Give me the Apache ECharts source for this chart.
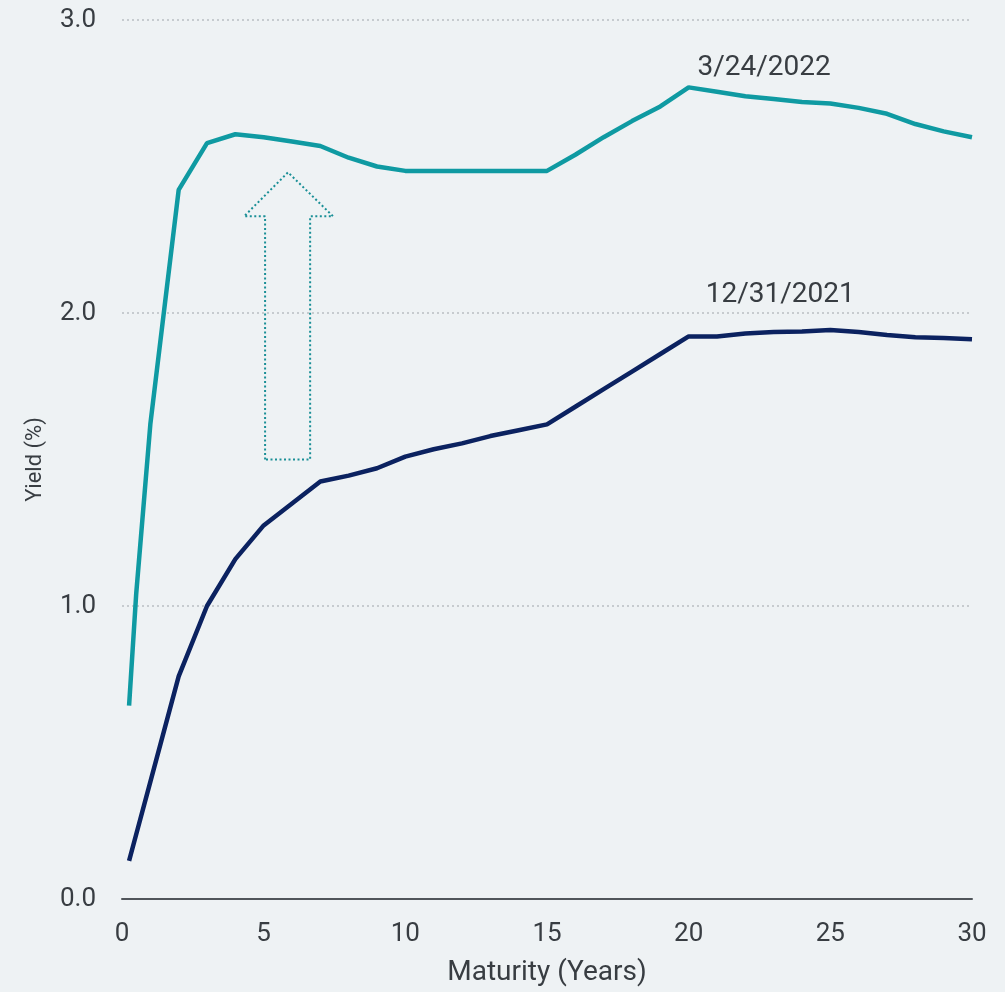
<!DOCTYPE html>
<html>
<head>
<meta charset="utf-8">
<script src="https://cdn.jsdelivr.net/npm/echarts@6/dist/echarts.min.js"></script>
<style>
html,body{margin:0;padding:0;background:#eef2f4;}
#chart{width:1005px;height:992px;}
</style>
</head>
<body>
<div id="chart"></div>
<script>
var maturities = [0.25,0.5,1,2,3,4,5,6,7,8,9,10,11,12,13,14,15,16,17,18,19,20,21,22,23,24,25,26,27,28,29,30];
var yields20220324 = [0.66,1.04,1.62,2.42,2.58,2.61,2.60,2.585,2.57,2.53,2.50,2.485,2.485,2.485,2.485,2.485,2.485,2.54,2.60,2.655,2.705,2.77,2.755,2.74,2.73,2.72,2.715,2.70,2.68,2.645,2.62,2.60];
var yields20211231 = [0.13,0.22,0.40,0.76,1.00,1.16,1.275,1.35,1.425,1.445,1.47,1.51,1.535,1.555,1.58,1.60,1.62,1.68,1.74,1.80,1.86,1.92,1.92,1.93,1.935,1.937,1.942,1.935,1.925,1.917,1.915,1.91];
var yTicks = [0,1,2,3];
var seriesNames = ['3/24/2022','12/31/2021'];
var labelCoords = [[22.66,2.835],[23.23,2.063]];
var arrowOutline = [[5.05,1.50],[5.05,2.33],[4.31,2.33],[5.86,2.48],[7.45,2.33],[6.64,2.33],[6.64,1.50],[5.05,1.50]];

var TEAL = '#0f9aa2';
var NAVY = '#0b2260';
var TEXT = '#383d42';
var FONT = 'Roboto';

function pairs(xs, ys){ return xs.map(function(x,i){ return [x, ys[i]]; }); }

var chart = echarts.init(document.getElementById('chart'));
chart.setOption({
  backgroundColor: '#eef2f4',
  animation: false,
  textStyle: {fontFamily: FONT},
  grid: {left: 122, right: 33, top: 20, bottom: 93},
  xAxis: {
    type: 'value', min: 0, max: 30, interval: 5,
    name: 'Maturity (Years)', nameLocation: 'middle', nameGap: 60,
    nameTextStyle: {fontSize: 28, color: TEXT, fontFamily: FONT},
    axisLine: {show: true, lineStyle: {color: '#50555a', width: 2}},
    axisTick: {show: false},
    axisLabel: {fontSize: 26, color: TEXT, margin: 22, fontFamily: FONT},
    splitLine: {show: false}
  },
  yAxis: {
    type: 'value', min: yTicks[0], max: yTicks[yTicks.length-1], interval: 1,
    name: 'Yield (%)', nameLocation: 'middle', nameGap: 76,
    nameTextStyle: {fontSize: 22, color: TEXT, fontFamily: FONT},
    axisLine: {show: false},
    axisTick: {show: false},
    axisLabel: {fontSize: 26, color: TEXT, margin: 26, fontFamily: FONT,
      formatter: function(v){ return v.toFixed(1); }},
    splitLine: {show: true, lineStyle: {color: '#b9bec2', width: 1.5, type: [2,3]}}
  },
  series: [
    {
      name: seriesNames[0], type: 'line', data: pairs(maturities, yields20220324),
      showSymbol: false, symbol: 'none', lineStyle: {color: TEAL, width: 4.5}, itemStyle: {color: TEAL},
      z: 3,
      markPoint: {
        symbol: 'circle', symbolSize: 0, silent: true,
        label: {show: true, position: 'inside', formatter: seriesNames[0], fontSize: 28, color: TEXT, fontFamily: FONT},
        data: [{coord: labelCoords[0]}]
      }
    },
    {
      name: seriesNames[1], type: 'line', data: pairs(maturities, yields20211231),
      showSymbol: false, symbol: 'none', lineStyle: {color: NAVY, width: 4.5}, itemStyle: {color: NAVY},
      z: 3,
      markPoint: {
        symbol: 'circle', symbolSize: 0, silent: true,
        label: {show: true, position: 'inside', formatter: seriesNames[1], fontSize: 28, color: TEXT, fontFamily: FONT},
        data: [{coord: labelCoords[1]}]
      }
    },
    {
      name: 'arrow', type: 'line', data: arrowOutline, silent: true,
      showSymbol: false, symbol: 'none',
      lineStyle: {color: '#1a8f96', width: 2, type: [2,2.5]},
      z: 2
    }
  ]
});
</script>
</body>
</html>
